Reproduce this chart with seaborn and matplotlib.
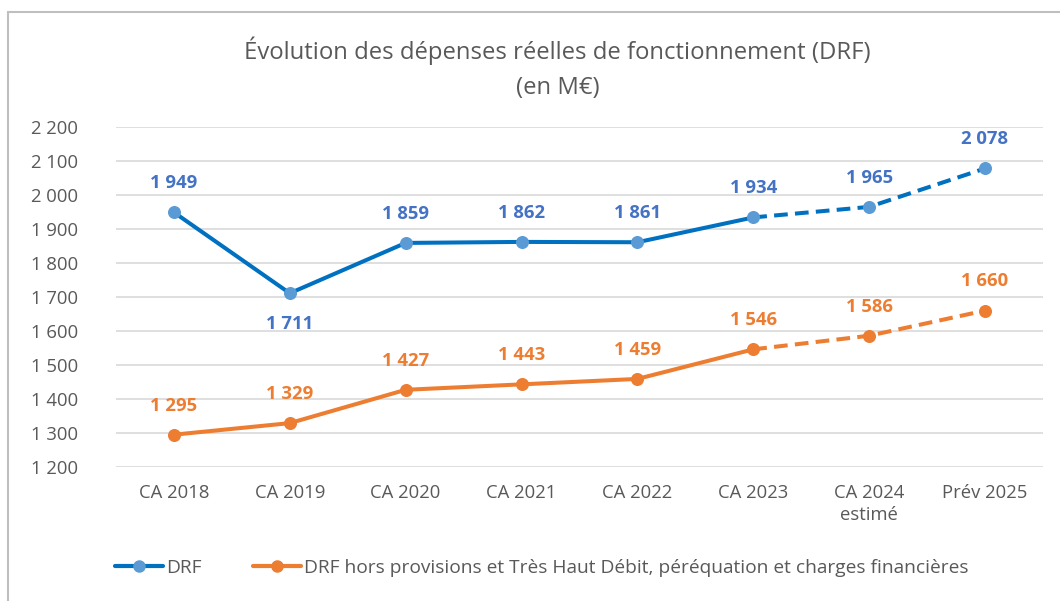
import matplotlib
matplotlib.use("Agg")
import matplotlib.pyplot as plt
import seaborn as sns
import pandas as pd
from matplotlib.lines import Line2D

categories = ["CA 2018", "CA 2019", "CA 2020", "CA 2021", "CA 2022",
              "CA 2023", "CA 2024\nestimé", "Prév 2025"]
drf = [1949, 1711, 1859, 1862, 1861, 1934, 1965, 2078]
drf_hors = [1295, 1329, 1427, 1443, 1459, 1546, 1586, 1660]
series_names = ["DRF",
                "DRF hors provisions et Très Haut Débit, péréquation et charges financières"]
yticks = list(range(1200, 2201, 100))

sns.set_theme(style="white")
plt.rcParams["font.family"] = ["Open Sans", "DejaVu Sans"]

BLUE_LINE = "#0070C0"
BLUE_MARK = "#5B9BD5"
BLUE_TXT = "#4472C4"
ORANGE = "#ED7D31"
GREY_TXT = "#595959"


def fmt(v):
    return f"{v:,}".replace(",", " ")


fig = plt.figure(figsize=(10.6, 6.01), dpi=100)
ax = fig.add_axes([0.1094, 0.2230, 0.8745, 0.5657])

x = list(range(len(categories)))
n_real = 6  # CA 2018 .. CA 2023 are actual results

for vals, lc, mc in [(drf, BLUE_LINE, BLUE_MARK), (drf_hors, ORANGE, ORANGE)]:
    df_solid = pd.DataFrame({"x": x[:n_real], "y": vals[:n_real]})
    df_dash = pd.DataFrame({"x": x[n_real - 1:], "y": vals[n_real - 1:]})
    sns.lineplot(data=df_solid, x="x", y="y", ax=ax, color=lc, linewidth=2.9,
                 solid_capstyle="round")
    sns.lineplot(data=df_dash, x="x", y="y", ax=ax, color=lc, linewidth=2.9,
                 linestyle=(0, (3.4, 1.8)))
    ax.scatter(x, vals, s=70, color=mc, edgecolor=mc, zorder=5)

# data labels
for i, v in enumerate(drf):
    dy = -22 if i == 1 else 21
    ax.annotate(fmt(v), (i, v), xytext=(0, dy), textcoords="offset points",
                ha="center", va="center", color=BLUE_TXT, fontsize=13.3,
                fontweight="bold")
for i, v in enumerate(drf_hors):
    ax.annotate(fmt(v), (i, v), xytext=(0, 21), textcoords="offset points",
                ha="center", va="center", color=ORANGE, fontsize=13.3,
                fontweight="bold")

ax.set_xlim(-0.5, len(categories) - 0.5)
ax.set_ylim(1200, 2200)
ax.set_yticks(yticks)
ax.set_yticklabels([fmt(t) for t in yticks])
ax.set_xticks(x)
ax.set_xticklabels(categories, linespacing=1.3)
ax.set_xlabel("")
ax.set_ylabel("")
ax.tick_params(axis="both", labelsize=13.3, colors=GREY_TXT, length=0)
ax.tick_params(axis="x", pad=12)
ax.tick_params(axis="y", pad=61)
for lab in ax.get_yticklabels():
    lab.set_horizontalalignment("left")
ax.grid(axis="y", color="#D9D9D9", linewidth=1.2)
ax.set_axisbelow(True)
for s in ax.spines.values():
    s.set_visible(False)

fig.text(0.526, 0.915, "Évolution des dépenses réelles de fonctionnement (DRF)",
         ha="center", va="center", fontsize=17.2, color=GREY_TXT)
fig.text(0.526, 0.853, "(en M€)", ha="center", va="center", fontsize=17.2,
         color=GREY_TXT)

handles = [
    Line2D([], [], color=BLUE_LINE, linewidth=3, marker="o",
           markersize=8, markerfacecolor=BLUE_MARK, markeredgecolor=BLUE_MARK),
    Line2D([], [], color=ORANGE, linewidth=3, marker="o",
           markersize=8, markerfacecolor=ORANGE, markeredgecolor=ORANGE),
]
fig.legend(handles, series_names, loc="center left",
           bbox_to_anchor=(0.0925, 0.055), ncol=2, frameon=False,
           fontsize=13.8, labelcolor=GREY_TXT, handlelength=2.5,
           handletextpad=0.15, columnspacing=2.7, borderpad=0.4)

# outer chart frame (top and left visible)
fig.add_artist(Line2D([0.0075, 0.0075], [0.0, 0.980], color="#BFBFBF",
                      linewidth=1.5, transform=fig.transFigure))
fig.add_artist(Line2D([0.0075, 1.0], [0.980, 0.980], color="#BFBFBF",
                      linewidth=1.5, transform=fig.transFigure))

fig.savefig("out.png", dpi=100)
